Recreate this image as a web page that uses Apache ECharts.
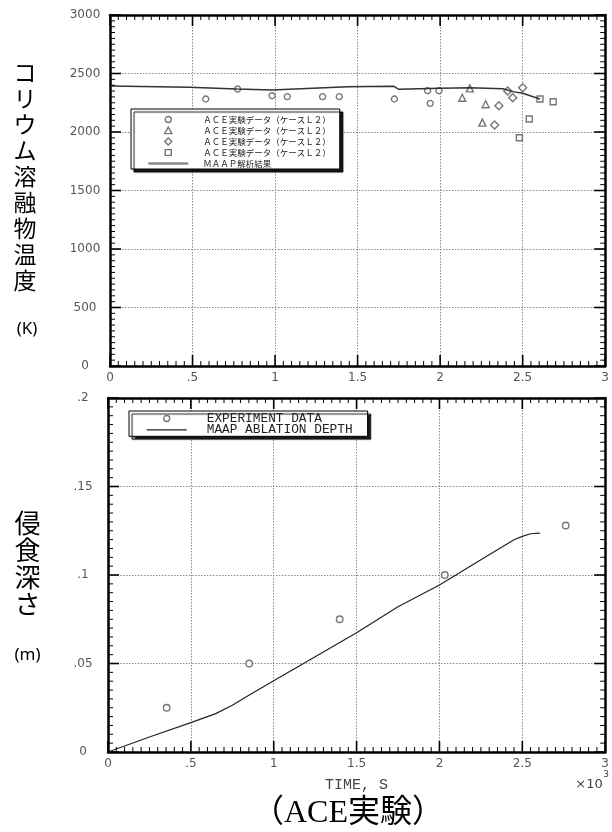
<!DOCTYPE html>
<html>
<head>
<meta charset="utf-8">
<script src="https://cdn.jsdelivr.net/npm/echarts@6/dist/echarts.min.js"></script>
<style>
html,body{margin:0;padding:0;background:#fff;}
#chart{width:612px;height:832px;}
</style>
</head>
<body>
<div id="chart"></div>
<script>
// ---------- tick labels ----------
const timeTickLabels = ['0', '.5', '1', '1.5', '2', '2.5', '3'];          // ×10^3 s
const tempTickLabels = ['0', '500', '1000', '1500', '2000', '2500', '3000']; // K
const depthTickLabels = ['0', '.05', '.1', '.15', '.2'];                      // m

// ---------- top panel: corium melt temperature (time in 10^3 s, K) ----------
const aceCircle = [[0.58, 2282], [0.773, 2367], [0.982, 2310], [1.074, 2302], [1.288, 2302],
  [1.389, 2302], [1.723, 2282], [1.924, 2353], [1.94, 2245], [1.993, 2353]];
const aceTriangle = [[2.134, 2293], [2.18, 2373], [2.256, 2080], [2.276, 2237]];
const aceDiamond = [[2.33, 2060], [2.356, 2225], [2.41, 2350], [2.44, 2293], [2.50, 2379]];
const aceSquare = [[2.48, 1951], [2.54, 2111], [2.605, 2282], [2.685, 2259]];
const maapTemp = [[0, 2393], [0.48, 2382], [0.77, 2367], [0.98, 2360], [1.44, 2387], [1.72, 2390],
  [1.75, 2365], [2.0, 2373], [2.18, 2379], [2.38, 2370], [2.44, 2345], [2.5, 2331], [2.605, 2282]];

// ---------- bottom panel: ablation depth (time in 10^3 s, m) ----------
const expTime = [0.354, 0.852, 1.398, 2.032, 2.762];
const expDepth = [0.025, 0.050, 0.075, 0.100, 0.128];
const maapDepth = [[0, 0], [0.25, 0.0085], [0.5, 0.0166], [0.65, 0.0217], [0.75, 0.0264],
  [0.85, 0.0321], [1.0, 0.0402], [1.25, 0.0538], [1.5, 0.0674], [1.75, 0.0821], [2.0, 0.0944],
  [2.25, 0.1086], [2.45, 0.1199], [2.5, 0.1218], [2.55, 0.1233], [2.606, 0.1237]];

// ---------- legend texts ----------
const topLegendNames = ['aceCircle', 'aceTriangle', 'aceDiamond', 'aceSquare', 'maapTemp'];
const topLegendLabels = ['ＡＣＥ実験データ（ケースＬ２）', 'ＡＣＥ実験データ（ケースＬ２）',
  'ＡＣＥ実験データ（ケースＬ２）', 'ＡＣＥ実験データ（ケースＬ２）', 'ＭＡＡＰ解析結果'];
const bottomLegendNames = ['expDepth', 'maapDepth'];
const bottomLegendLabels = ['EXPERIMENT DATA', 'MAAP ABLATION DEPTH'];

const labelMap = {};
topLegendNames.forEach((n, i) => labelMap[n] = topLegendLabels[i]);
bottomLegendNames.forEach((n, i) => labelMap[n] = bottomLegendLabels[i]);

// axis ranges
const TIME_RANGE = [0, 3], TIME_INT = 0.5;
const TEMP_RANGE = [0, 3000], TEMP_INT = 500;
const DEPTH_RANGE = [0, 0.2], DEPTH_INT = 0.05;
const MINOR_SPLIT = 10;

function tickFmt(labels, interval) {
  return v => labels[Math.round(v / interval)] ?? '';
}

const LABEL_FONT = 'DejaVu Sans';
const noTick = { show: false };
function xAxes(gi, withName) {
  const common = {
    type: 'value', gridIndex: gi, min: TIME_RANGE[0], max: TIME_RANGE[1], interval: TIME_INT,
    axisLine: { show: true, onZero: false, lineStyle: { color: '#000', width: 2.5 } },
    axisTick: noTick, minorTick: noTick
  };
  const bottom = Object.assign({}, common, {
    position: 'bottom',
    splitLine: { show: true, lineStyle: { color: '#8a8a8a', type: [1.5, 1.5], width: 1 } },
    axisLabel: { formatter: tickFmt(timeTickLabels, TIME_INT), color: '#555', fontSize: 12,
      fontFamily: LABEL_FONT, margin: 6 }
  });
  if (withName) {
    Object.assign(bottom, {
      name: 'TIME, S', nameLocation: 'middle', nameGap: 26,
      nameTextStyle: { fontFamily: 'Liberation Mono', fontSize: 15, color: '#444', verticalAlign: 'top' }
    });
  }
  const top = Object.assign({}, common, {
    position: 'top', splitLine: { show: false }, axisLabel: { show: false }
  });
  return [bottom, top];
}
function yAxes(gi, range, interval, labels) {
  const common = {
    type: 'value', gridIndex: gi, min: range[0], max: range[1], interval: interval,
    axisLine: { show: true, onZero: false, lineStyle: { color: '#000', width: 2.5 } },
    axisTick: noTick, minorTick: noTick
  };
  const left = Object.assign({}, common, {
    position: 'left',
    splitLine: { show: true, lineStyle: { color: '#8a8a8a', type: [1.5, 1.5], width: 1 } },
    axisLabel: { formatter: tickFmt(labels, interval), color: '#555', fontSize: 12,
      fontFamily: LABEL_FONT, margin: 25, align: 'center' }
  });
  const right = Object.assign({}, common, {
    position: 'right', splitLine: { show: false }, axisLabel: { show: false }
  });
  return [left, right];
}

// ---- inside tick marks on all four sides, drawn as thin rect symbols placed by the axes' scales ----
function tickValues(range, interval) {
  const out = [];
  const n = Math.round((range[1] - range[0]) / interval) * MINOR_SPLIT;
  for (let i = 0; i <= n; i++) out.push([range[0] + i * interval / MINOR_SPLIT, i % MINOR_SPLIT !== 0]);
  return out;
}
function tickSeries(xi, yi, xr, xInt, yr, yInt) {
  const data = [];
  tickValues(xr, xInt).forEach(([v, minor]) => {
    const len = minor ? 5 : 11, w = minor ? 1 : 1.6;
    data.push({ value: [v, yr[0]], symbolSize: [w, len], symbolOffset: [0, -len / 2] });
    data.push({ value: [v, yr[1]], symbolSize: [w, len], symbolOffset: [0, len / 2] });
  });
  tickValues(yr, yInt).forEach(([v, minor]) => {
    const len = minor ? 5 : 11, w = minor ? 1 : 1.6;
    data.push({ value: [xr[0], v], symbolSize: [len, w], symbolOffset: [len / 2, 0] });
    data.push({ value: [xr[1], v], symbolSize: [len, w], symbolOffset: [-len / 2, 0] });
  });
  return {
    type: 'scatter', name: 'axisTicks' + xi, xAxisIndex: xi, yAxisIndex: yi, symbol: 'rect',
    silent: true, clip: false, z: 8, animation: false,
    itemStyle: { color: '#000', borderWidth: 0, opacity: 1 },
    emphasis: { disabled: true },
    data: data
  };
}

const hollow = { color: '#fff', borderColor: '#555', borderWidth: 1.4 };
// legend icons: a marker centred in a 40x7 box
const ICON = {
  circle: 'path://M0,0M40,7M23,3.5A3,3,0,1,1,17,3.5A3,3,0,1,1,23,3.5Z',
  triangle: 'path://M0,0M40,7M20,0.2L23.6,6.6L16.4,6.6Z',
  diamond: 'path://M0,0M40,7M20,0L23.5,3.5L20,7L16.5,3.5Z',
  square: 'path://M0,0M40,7M17,0.6L23,0.6L23,6.4L17,6.4Z'
};

const chart = echarts.init(document.getElementById('chart'), null, { renderer: 'canvas' });
const option = {
  backgroundColor: '#fff',
  animation: false,
  grid: [
    { left: 110, top: 15, width: 498, height: 351, containLabel: false },
    { left: 108, top: 398, width: 500, height: 354, containLabel: false }
  ],
  xAxis: [...xAxes(0, false), ...xAxes(1, true)],
  yAxis: [...yAxes(0, TEMP_RANGE, TEMP_INT, tempTickLabels), ...yAxes(1, DEPTH_RANGE, DEPTH_INT, depthTickLabels)],
  legend: [
    {
      orient: 'vertical', left: 131, top: 109, padding: [5, 9, 0, 16],
      itemWidth: 40, itemHeight: 7, itemGap: 0, selectedMode: false,
      backgroundColor: '#fff', borderColor: '#000', borderWidth: 1,
      shadowColor: 'rgba(0,0,0,0.9)', shadowBlur: 1, shadowOffsetX: 3, shadowOffsetY: 3,
      itemStyle: { borderWidth: 1.4 },
      textStyle: { fontFamily: 'Noto Sans CJK JP', fontSize: 8.5, color: '#222', lineHeight: 11,
        padding: [0, 0, 0, 10] },
      formatter: n => labelMap[n],
      data: [
        { name: 'aceCircle', icon: ICON.circle }, { name: 'aceTriangle', icon: ICON.triangle },
        { name: 'aceDiamond', icon: ICON.diamond }, { name: 'aceSquare', icon: ICON.square },
        { name: 'maapTemp', itemStyle: { opacity: 0 }, lineStyle: { color: '#888', width: 2.5 } }
      ]
    },
    {
      orient: 'vertical', left: 129, top: 411, padding: [1, 15, 0, 17],
      itemWidth: 40, itemHeight: 7, itemGap: -1.7, selectedMode: false,
      backgroundColor: '#fff', borderColor: '#000', borderWidth: 1,
      shadowColor: 'rgba(0,0,0,0.9)', shadowBlur: 1, shadowOffsetX: 3, shadowOffsetY: 3,
      itemStyle: { borderWidth: 1.4 },
      textStyle: { fontFamily: 'Liberation Mono', fontSize: 12.8, color: '#222', lineHeight: 11.3,
        padding: [0, 0, 0, 15] },
      formatter: n => labelMap[n],
      data: [{ name: 'expDepth', icon: ICON.circle },
             { name: 'maapDepth', itemStyle: { opacity: 0 }, lineStyle: { color: '#222', width: 1.2 } }]
    }
  ],
  series: [
    tickSeries(0, 0, TIME_RANGE, TIME_INT, TEMP_RANGE, TEMP_INT),
    tickSeries(2, 2, TIME_RANGE, TIME_INT, DEPTH_RANGE, DEPTH_INT),
    { name: 'aceCircle', type: 'scatter', xAxisIndex: 0, yAxisIndex: 0, symbol: 'circle', symbolSize: 6,
      itemStyle: hollow, data: aceCircle },
    { name: 'aceTriangle', type: 'scatter', xAxisIndex: 0, yAxisIndex: 0, symbol: 'triangle', symbolSize: 7,
      itemStyle: hollow, data: aceTriangle },
    { name: 'aceDiamond', type: 'scatter', xAxisIndex: 0, yAxisIndex: 0, symbol: 'diamond', symbolSize: 8,
      itemStyle: hollow, data: aceDiamond },
    { name: 'aceSquare', type: 'scatter', xAxisIndex: 0, yAxisIndex: 0, symbol: 'rect', symbolSize: 6,
      itemStyle: hollow, data: aceSquare },
    { name: 'maapTemp', type: 'line', xAxisIndex: 0, yAxisIndex: 0, symbol: 'none', z: 3,
      itemStyle: { color: '#333' }, lineStyle: { color: '#333', width: 1.5 }, data: maapTemp },
    { name: 'expDepth', type: 'scatter', xAxisIndex: 2, yAxisIndex: 2, symbol: 'circle', symbolSize: 6.5,
      itemStyle: hollow, data: expTime.map((t, i) => [t, expDepth[i]]) },
    { name: 'maapDepth', type: 'line', xAxisIndex: 2, yAxisIndex: 2, symbol: 'none',
      itemStyle: { color: '#222' }, lineStyle: { color: '#222', width: 1.2 }, data: maapDepth }
  ],
  graphic: [
    { type: 'text', x: 25, y: 176, style: {
      text: 'コリウム溶融物温度'.split('').join('\n'), fontFamily: 'Noto Sans CJK JP', fontSize: 23,
      lineHeight: 26, fill: '#000', textAlign: 'center', textVerticalAlign: 'middle' } },
    { type: 'text', x: 27, y: 329, style: {
      text: '(K)', fontFamily: 'Noto Sans', fontSize: 17, fill: '#000',
      textAlign: 'center', textVerticalAlign: 'middle' } },
    { type: 'text', x: 27.5, y: 564, style: {
      text: '侵食深さ'.split('').join('\n'), fontFamily: 'Noto Sans CJK JP', fontSize: 26,
      lineHeight: 27, fill: '#000', textAlign: 'center', textVerticalAlign: 'middle' } },
    { type: 'text', x: 27.5, y: 655, style: {
      text: '(m)', fontFamily: 'Noto Sans', fontSize: 17, fill: '#000',
      textAlign: 'center', textVerticalAlign: 'middle' } },
    { type: 'text', x: 589, y: 785, style: {
      text: '×10', fontFamily: 'DejaVu Sans', fontSize: 13, fill: '#444',
      textAlign: 'center', textVerticalAlign: 'middle' } },
    { type: 'text', x: 606, y: 775, style: {
      text: '3', fontFamily: 'DejaVu Sans', fontSize: 9, fill: '#444',
      textAlign: 'center', textVerticalAlign: 'middle' } },
    { type: 'text', x: 348, y: 814, style: {
      text: '（ACE実験）', fontFamily: "'Liberation Serif', 'Noto Sans CJK JP', serif", fontSize: 32,
      fill: '#000', textAlign: 'center', textVerticalAlign: 'middle' } }
  ]
};
chart.setOption(option);
</script>
</body>
</html>
